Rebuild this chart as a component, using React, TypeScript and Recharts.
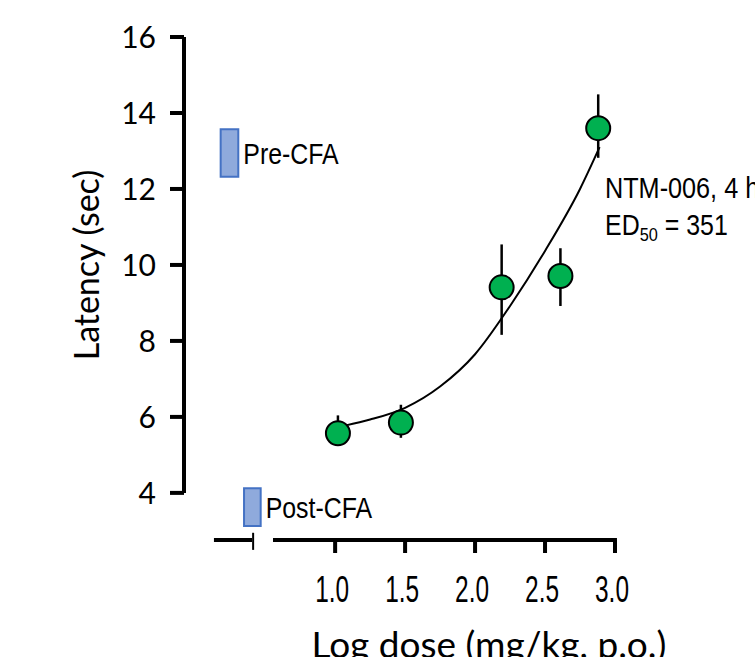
import {
  ComposedChart,
  Scatter,
  Line,
  XAxis,
  YAxis,
  ErrorBar,
  ReferenceArea,
  ReferenceLine,
  Label,
} from "recharts";

// mean latency per dose, with [minus, plus] error
const doseLog = [1.02, 1.47, 2.19, 2.61, 2.88];
const latencyMean = [5.57, 5.85, 9.41, 9.71, 13.6];
const latencyErr = [
  [0.3, 0.47],
  [0.4, 0.47],
  [1.25, 1.13],
  [0.79, 0.73],
  [0.78, 0.89],
];

// fitted dose-response curve
const fitDose = [1.07, 1.25, 1.5, 1.75, 2.0, 2.25, 2.5, 2.75, 2.89];
const fitLatency = [5.77, 5.93, 6.24, 6.8, 7.65, 8.92, 10.37, 12.0, 13.1];

// baseline groups (mean ± error shown as boxes)
const baselineLabels = ["Pre-CFA", "Post-CFA"];
const baselineLow = [12.32, 3.13];
const baselineHigh = [13.57, 4.12];

const xTicks = [1.0, 1.5, 2.0, 2.5, 3.0];
const yTicks = [4, 6, 8, 10, 12, 14, 16];

const points = doseLog.map((x, i) => ({ x, y: latencyMean[i], err: latencyErr[i] }));
const fit = fitDose.map((x, i) => ({ x, y: fitLatency[i] }));

const X_MIN = -0.08;
const Y_MIN = 2.76;
const arial = "'Liberation Sans', Arial, sans-serif";
const calibriLike = "Lato, 'Open Sans', sans-serif";

const boxSlots = [
  [0.182, 0.308],
  [0.349, 0.468],
];
const boxLabelOffset = [4, 7];

// condensed Arial look: squeeze Liberation Sans horizontally
function NarrowText({ x, y, sx = 0.83, size = 30, anchor = "start", children }: any) {
  return (
    <text
      transform={`translate(${x},${y}) scale(${sx},1)`}
      textAnchor={anchor}
      fontSize={size}
      fontFamily={arial}
      fill="#000"
    >
      {children}
    </text>
  );
}

function XTick(props: any) {
  const { x, y, payload } = props;
  return (
    <NarrowText x={x - 3} y={y + 49} sx={0.66} size={37} anchor="middle">
      {Number(payload.value).toFixed(1)}
    </NarrowText>
  );
}

function BoxLabel(props: any) {
  const { viewBox, text, offset } = props;
  if (!viewBox) return null;
  const tx = viewBox.x + viewBox.width + offset;
  const ty = viewBox.y + viewBox.height / 2 + 10.7;
  return (
    <NarrowText x={tx} y={ty} sx={0.83} size={30}>
      {text}
    </NarrowText>
  );
}

function Dot(props: any) {
  const { cx, cy } = props;
  return <circle cx={cx} cy={cy} r={12} fill="#00b050" stroke="#000" strokeWidth={2} />;
}

export default function App() {
  return (
    <div style={{ position: "absolute", left: 0, top: 0, width: 755, height: 657, background: "#fff", overflow: "hidden" }}>
      <ComposedChart
        width={755}
        height={657}
        margin={{ top: 37, right: 140, bottom: 0, left: 0 }}
        style={{ fontFamily: calibriLike }}
      >
        <XAxis
          type="number"
          dataKey="x"
          domain={[X_MIN, 3]}
          ticks={xTicks}
          allowDataOverflow
          height={117}
          axisLine={false}
          tickSize={13}
          tickMargin={0}
          tickLine={{ stroke: "#000", strokeWidth: 4 }}
          tick={<XTick />}
        >
          <Label
            content={() => (
              <text x={489} y={658} textAnchor="middle" fontSize={37} fontFamily={calibriLike} fill="#000">
                Log dose (mg/kg, p.o.)
              </text>
            )}
          />
        </XAxis>
        <YAxis
          type="number"
          domain={[Y_MIN, 16]}
          ticks={yTicks}
          allowDataOverflow
          width={184}
          axisLine={false}
          tickSize={14}
          tickMargin={14}
          tickLine={{ stroke: "#000", strokeWidth: 4 }}
          tick={{ fill: "#000", fontSize: 30, fontFamily: calibriLike }}
        >
          <Label
            content={() => (
              <text
                transform="translate(85,265) rotate(-90)"
                textAnchor="middle"
                dominantBaseline="central"
                fontSize={34}
                fontFamily={calibriLike}
                fill="#000"
              >
                Latency (sec)
              </text>
            )}
          />
        </YAxis>

        {/* y axis line, stopping at 4 */}
        <ReferenceLine
          segment={[
            { x: X_MIN, y: 4 },
            { x: X_MIN, y: 16 },
          ]}
          stroke="#000"
          strokeWidth={4}
          ifOverflow="visible"
        />
        {/* broken x axis */}
        <ReferenceLine
          segment={[
            { x: 0.134, y: Y_MIN },
            { x: 0.406, y: Y_MIN },
          ]}
          stroke="#000"
          strokeWidth={4}
          ifOverflow="visible"
        />
        <ReferenceLine
          segment={[
            { x: 0.414, y: 2.95 },
            { x: 0.414, y: 2.5 },
          ]}
          stroke="#000"
          strokeWidth={2}
          ifOverflow="visible"
        />
        <ReferenceLine
          segment={[
            { x: 0.556, y: Y_MIN },
            { x: 3.014, y: Y_MIN },
          ]}
          stroke="#000"
          strokeWidth={4}
          ifOverflow="visible"
        />

        {baselineLabels.map((name, i) => (
          <ReferenceArea
            key={name}
            x1={boxSlots[i][0]}
            x2={boxSlots[i][1]}
            y1={baselineLow[i]}
            y2={baselineHigh[i]}
            fill="#8faadc"
            fillOpacity={1}
            stroke="#4472c4"
            strokeWidth={2}
            ifOverflow="visible"
            label={<BoxLabel text={name} offset={boxLabelOffset[i]} />}
          />
        ))}

        <Scatter data={points} dataKey="y" shape={<Dot />} isAnimationActive={false}>
          <ErrorBar dataKey="err" direction="y" width={0} stroke="#000" strokeWidth={2.5} />
        </Scatter>
        <Line
          data={fit}
          dataKey="y"
          type="monotone"
          stroke="#000"
          strokeWidth={2}
          dot={false}
          activeDot={false}
          isAnimationActive={false}
        />

        <NarrowText x={605} y={198} sx={0.87} size={29}>
          NTM-006, 4 h
        </NarrowText>
        <NarrowText x={605} y={235} sx={0.86} size={29}>
          ED
          <tspan fontSize={19} dy={6}>
            50
          </tspan>
          <tspan dy={-6}> = 351</tspan>
        </NarrowText>
      </ComposedChart>
    </div>
  );
}
